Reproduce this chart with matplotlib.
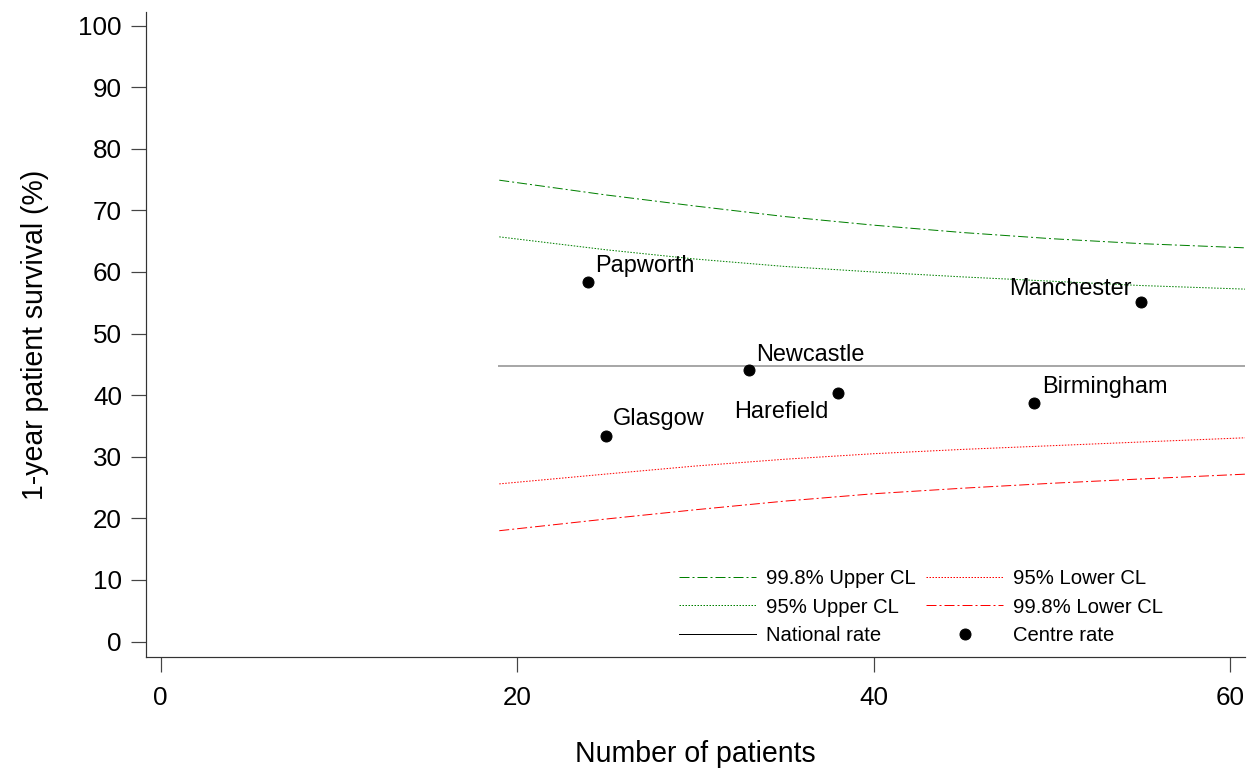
import matplotlib
matplotlib.use("Agg")
import matplotlib.pyplot as plt
from matplotlib.lines import Line2D

plt.rcParams['font.family'] = ['Liberation Sans', 'DejaVu Sans']

# control limit curves
cl_n = [19, 25, 30, 35, 40, 45, 50, 55, 61]
upper_998 = [74.9, 72.5, 70.7, 69.0, 67.6, 66.4, 65.4, 64.6, 63.9]
upper_95 = [65.7, 63.6, 62.1, 60.9, 60.0, 59.2, 58.5, 57.8, 57.2]
lower_95 = [25.6, 27.2, 28.5, 29.6, 30.5, 31.2, 31.8, 32.4, 33.1]
lower_998 = [18.0, 19.9, 21.4, 22.8, 24.0, 24.9, 25.7, 26.4, 27.2]

national_rate = 44.7
national_n = [19, 61]

centres = ["Papworth", "Glasgow", "Newcastle", "Harefield", "Birmingham", "Manchester"]
centre_n = [24.0, 25.0, 33.0, 38.0, 49.0, 55.0]
centre_rate = [58.3, 33.3, 44.1, 40.3, 38.7, 55.2]

# label placement (offset in px, horizontal alignment)
label_pos = {
    "Papworth": (7, 10, "left"),
    "Glasgow": (7, 11, "left"),
    "Newcastle": (7, 9, "left"),
    "Harefield": (-9, -25, "right"),
    "Birmingham": (8, 10, "left"),
    "Manchester": (-9, 7, "right"),
}

W, H = 1254, 772
fig = plt.figure(figsize=(W / 72, H / 72), dpi=72)
ax = fig.add_axes([146 / W, 1 - 657 / H, (1245 - 146) / W, (657 - 12) / H])

green = "#008000"
red = "#ff0000"
dashdot = (10, 3, 2, 3)
dotted = (1.5, 1.5)

l1, = ax.plot(cl_n, upper_998, color=green, lw=1, dashes=dashdot)
l2, = ax.plot(cl_n, upper_95, color=green, lw=1, dashes=dotted)
l3, = ax.plot(cl_n, lower_95, color=red, lw=1, dashes=dotted)
l4, = ax.plot(cl_n, lower_998, color=red, lw=1, dashes=dashdot)
ax.plot(national_n, [national_rate] * 2, color="#a8a8a8", lw=2)
pts, = ax.plot(centre_n, centre_rate, "o", color="black", ms=11, ls="none")

for name, n, r in zip(centres, centre_n, centre_rate):
    dx, dy, ha = label_pos[name]
    ax.annotate(name, (n, r), xytext=(dx, dy), textcoords="offset points",
                ha=ha, va="baseline", fontsize=23.5)

nat_handle = Line2D([], [], color="black", lw=1)
ax.legend([l1, l2, nat_handle, l3, l4, pts],
          ["99.8% Upper CL", "95% Upper CL", "National rate",
           "95% Lower CL", "99.8% Lower CL", "Centre rate"],
          ncol=2, frameon=False, fontsize=20.3, loc="upper left",
          bbox_to_anchor=(679 / W, 1 - 569 / H), bbox_transform=fig.transFigure,
          borderpad=0, borderaxespad=0, handlelength=3.8, handletextpad=0.5,
          columnspacing=0.5, labelspacing=0.47)

ax.set_xlim(-0.82, 60.84)
ax.set_ylim(-2.5, 102.2)
ax.set_xticks([0, 20, 40, 60])
ax.set_yticks(range(0, 101, 10))
ax.spines['top'].set_visible(False)
ax.spines['right'].set_visible(False)
for s in ['left', 'bottom']:
    ax.spines[s].set_color("#333333")
    ax.spines[s].set_linewidth(1.2)
ax.tick_params(direction="out", length=15, width=1.2, color="#444444",
               labelsize=26, pad=9)
ax.tick_params(axis="x", pad=14)

ax.set_xlabel("Number of patients", fontsize=28.5)
ax.set_ylabel("1-year patient survival (%)", fontsize=28.5)
ax.xaxis.set_label_coords(0.5, (657 - 740) / (657 - 12))
ax.yaxis.set_label_coords((49 - 146) / (1245 - 146), 0.5)

fig.savefig("out.png", dpi=72)
